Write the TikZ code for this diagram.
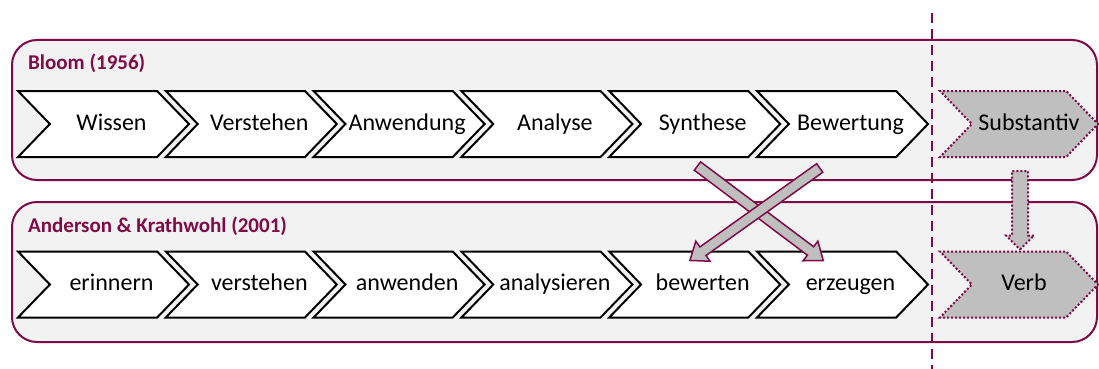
\documentclass[tikz,border=0pt]{standalone}
\usepackage{fontspec}
\setmainfont{Carlito}
\usetikzlibrary{shapes.symbols,shapes.arrows,calc}
\definecolor{wine}{RGB}{128,10,70}
\definecolor{panelfill}{RGB}{242,242,242}
\definecolor{shade}{RGB}{191,191,191}
\tikzset{
  panel/.style={draw=wine, line width=2pt, fill=panelfill, rounded corners=25pt,
    minimum width=1085pt, minimum height=140pt, inner sep=0pt},
  paneltitle/.style={anchor=west, text=wine, inner sep=0pt,
    font=\fontsize{21pt}{24pt}\selectfont\bfseries},
  chev/.style={signal, signal from=west, signal to=east, signal pointer angle=92,
    draw=black, line width=2pt, fill=white, minimum width=171pt, minimum height=66pt,
    inner sep=0pt},
  graychev/.style={chev, draw=wine, fill=shade, dash pattern=on 2pt off 2pt, minimum width=158pt},
  word/.style={xshift=8pt, font=\fontsize{24pt}{28pt}\selectfont, inner sep=0pt,
    text height=16pt, text depth=4pt},
  fatarrow/.style={single arrow, draw=wine, fill=shade, line width=1.5pt,
    inner xsep=0pt, inner ysep=4.5pt, single arrow head extend=7pt,
    single arrow tip angle=75, minimum width=0pt},
  dotarrow/.style={fatarrow, line width=2pt, dash pattern=on 2pt off 2pt,
    inner ysep=7pt, single arrow head extend=6pt, single arrow tip angle=90},
  divider/.style={draw=wine, line width=2pt, dash pattern=on 10pt off 6pt}
}
% block arrow from #2 to #3 with style #1
\newcommand{\blockarrow}[3]{%
  \path let \p1=(#2), \p2=(#3),
    \n1={atan2(\y2-\y1,\x2-\x1)}, \n2={veclen(\x2-\x1,\y2-\y1)} in
    node[#1, rotate=\n1, minimum height=\n2] at ($(\p1)!0.5!(\p2)$) {};}
\begin{document}
\begin{tikzpicture}[x=1pt, y=-1pt]
\useasboundingbox (0,0) rectangle (1099,369);
\fill[white] (0,0) rectangle (1099,369);

% the two panels
\node[panel] (bloom) at (554.5,110) {};
\node[panel] (ak) at (554.5,272) {};
\node[paneltitle] (bloomtitle) at (28,63) {Bloom (1956)};
\node[paneltitle] (aktitle) at (28,226) {Anderson \& Krathwohl (2001)};

% Bloom (1956)
\foreach \i/\t in {0/Wissen,1/Verstehen,2/Anwendung,3/Analyse,4/Synthese,5/Bewertung}
  \node[chev, label={[word]center:\t}] (b\i) at (103.5+147.8*\i,124) {};
% Anderson & Krathwohl (2001)
\foreach \i/\t in {0/erinnern,1/verstehen,2/anwenden,3/analysieren,4/bewerten,5/erzeugen}
  \node[chev, label={[word]center:\t}] (a\i) at (103.5+147.8*\i,284.5) {};

% divider
\coordinate (dtop) at (932,13);
\coordinate (dbot) at (932,369);
\draw[divider] (dtop) -- (dbot);

% word class
\node[graychev, label={[word,xshift=2pt]center:Substantiv}] (noun) at (1019,124) {};
\node[graychev, label={[word,xshift=-3pt]center:Verb}] (verb) at (1019,284.5) {};
\blockarrow{dotarrow}{$(noun.south)+(1,9)$}{$(verb.north)+(1,-5)$}

% crossing of the two upper levels
\blockarrow{fatarrow}{$(b4.south)+(0,6)$}{$(a5.north)+(-22,8)$}
\blockarrow{fatarrow}{$(b5.south)+(-20,8)$}{$(a4.north)+(-2,8)$}
\end{tikzpicture}
\end{document}
